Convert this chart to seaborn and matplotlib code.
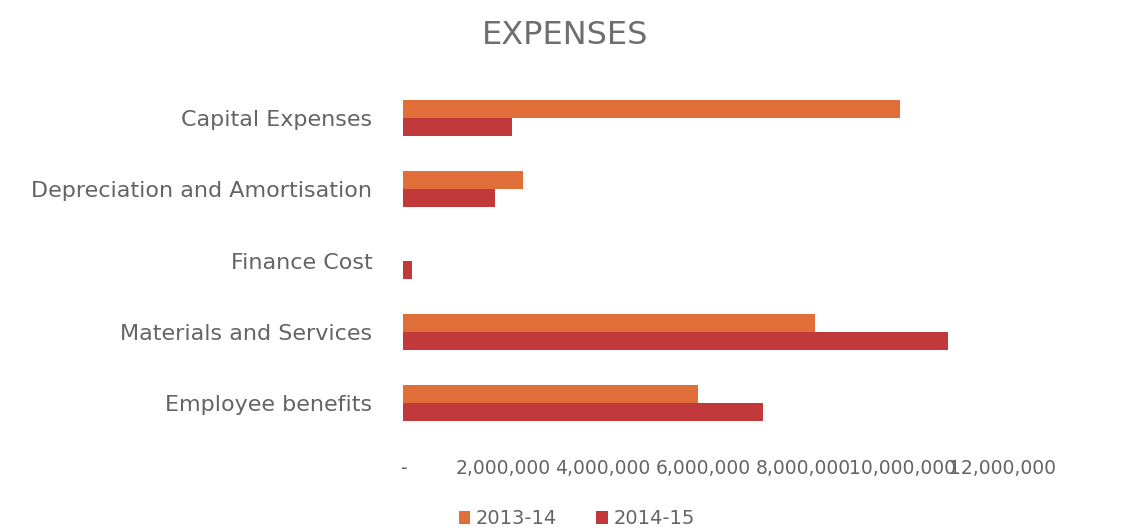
import matplotlib
matplotlib.use("Agg")
import matplotlib.pyplot as plt
import seaborn as sns
import pandas as pd
from matplotlib.ticker import FuncFormatter, FixedLocator

categories = ["Capital Expenses", "Depreciation and Amortisation", "Finance Cost",
              "Materials and Services", "Employee benefits"]
series_names = ["2013-14", "2014-15"]
values_2013_14 = [9950000, 2400000, 0, 8250000, 5900000]
values_2014_15 = [2180000, 1840000, 180000, 10900000, 7200000]
x_ticks = [0, 2000000, 4000000, 6000000, 8000000, 10000000, 12000000]
colors = ["#DF6E38", "#C1393B"]

df = pd.DataFrame({
    "category": categories * 2,
    "year": [series_names[0]] * len(categories) + [series_names[1]] * len(categories),
    "value": values_2013_14 + values_2014_15,
})

sns.set_theme(style="white")
plt.rcParams["font.family"] = ["DejaVu Sans"]
grey = "#646464"

fig = plt.figure(figsize=(11.31, 5.32), dpi=100)
ax = fig.add_axes([0.3563, 0.1758, 0.5305, 0.669])

sns.barplot(data=df, y="category", x="value", hue="year", order=categories,
            hue_order=series_names, palette=colors, orient="h", width=0.51,
            saturation=1, linewidth=0, edgecolor="none", ax=ax, legend=True)

ax.set_xlim(0, 12000000)
ax.xaxis.set_major_locator(FixedLocator(x_ticks))
ax.xaxis.set_major_formatter(FuncFormatter(lambda v, p: "-" if v == 0 else f"{int(v):,}"))
ax.set_xlabel("")
ax.set_ylabel("")
for s in ax.spines.values():
    s.set_visible(False)
ax.tick_params(axis="x", length=0, pad=15, labelsize=13.5, labelcolor=grey)
ax.tick_params(axis="y", length=0, pad=22, labelsize=16, labelcolor=grey)

fig.suptitle("EXPENSES", x=0.5, y=0.962, fontsize=23, color="#6e6e6e", fontweight="normal")

handles, labels = ax.get_legend_handles_labels()
ax.legend_.remove()
fig.legend(handles, labels, loc="center", bbox_to_anchor=(0.51, 0.025), ncol=2,
           frameon=False, fontsize=14, labelcolor=grey, handlelength=0.6,
           handleheight=0.6, handletextpad=0.3, columnspacing=2.0)

fig.savefig("out.png", dpi=100)
